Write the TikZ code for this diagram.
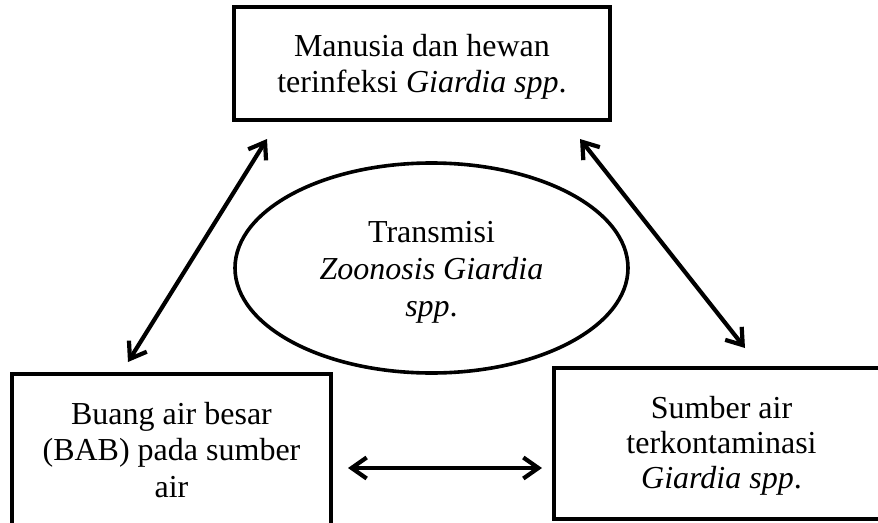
\documentclass[tikz,border=0pt]{standalone}
\usepackage{fontspec}
\setmainfont{Liberation Serif}
\usetikzlibrary{arrows.meta,shapes.geometric}
\begin{document}
\begin{tikzpicture}[x=1pt,y=-1pt,
  box/.style={draw=black, line width=4.5pt, inner sep=0pt, align=center,
    font=\fontsize{32}{36.5}\selectfont},
  oval/.style={ellipse, draw=black, line width=3.6pt, inner sep=0pt, align=center,
    font=\fontsize{32}{37}\selectfont},
  dbl/.style={line width=4.2pt,
    {Straight Barb[length=15pt,width=21pt]}-{Straight Barb[length=15pt,width=21pt]}}]
\useasboundingbox (0,0) rectangle (878,522);
\clip (0,0) rectangle (878,522);
\fill[white] (0,0) rectangle (878,522);

\node[box, minimum width=376pt, minimum height=113pt] (top) at (422,63.5)
  {\rule{0pt}{28.5pt}Manusia dan hewan\\terinfeksi \textit{Giardia spp}.};
\node[box, minimum width=319pt, minimum height=152pt] (bl) at (171.5,450)
  {Buang air besar\\(BAB) pada sumber\\air};
\node[box, minimum width=335pt, minimum height=151pt,
  font=\fontsize{32}{35}\selectfont] (br) at (721.5,443.5)
  {\rule{0pt}{26pt}Sumber air\\terkontaminasi\\\textit{Giardia spp}.};
\node[oval, minimum width=393pt, minimum height=210pt] (ov) at (431.5,268)
  {\rule{0pt}{30.5pt}Transmisi\\\textit{Zoonosis Giardia}\\\textit{spp}.};

\coordinate (blA) at (128,362);
\coordinate (topA) at (267,139);
\coordinate (topB) at (580,139);
\coordinate (brA) at (745,348);
\coordinate (blB) at (348,468);
\coordinate (brB) at (542,468);

\draw[dbl] (blA) -- (topA);
\draw[dbl] (topB) -- (brA);
\draw[dbl] (blB) -- (brB);
\end{tikzpicture}
\end{document}
